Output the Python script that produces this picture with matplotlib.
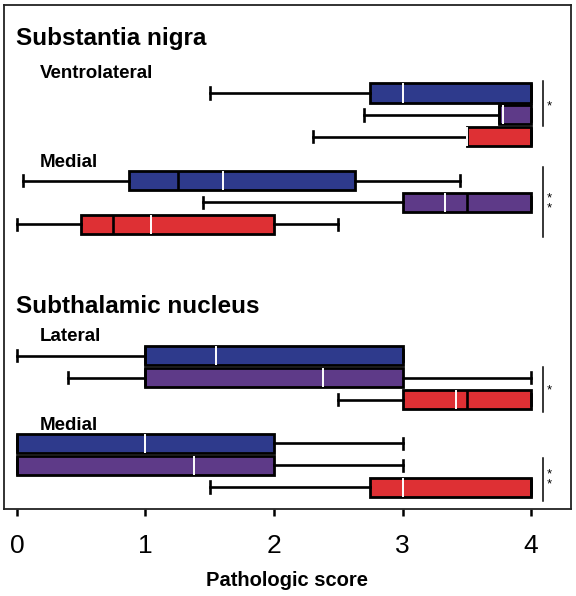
import matplotlib.pyplot as plt

plt.rcParams["font.family"] = ["Liberation Sans", "DejaVu Sans"]

# -------------------------
# data (pathologic score, 0-4)
# rows: SN ventrolateral, SN medial, STN lateral, STN medial; 3 groups each
# -------------------------
groups = ["group 1", "group 2", "group 3"]
regions = ["SN ventrolateral", "SN medial", "STN lateral", "STN medial"]

whis_lo = [1.50, 2.70, 2.30, 0.05, 1.45, 0.00, 0.00, 0.40, 2.50, 0.00, 0.00, 1.50]
q1 = [2.75, 3.75, 3.50, 0.87, 3.00, 0.50, 1.00, 1.00, 3.00, 0.00, 0.00, 2.75]
median = [4.00, 3.75, 4.00, 1.25, 3.50, 0.75, 1.00, 1.00, 3.50, 0.00, 0.00, 4.00]
q3 = [4.00, 4.00, 4.00, 2.63, 4.00, 2.00, 3.00, 3.00, 4.00, 2.00, 2.00, 4.00]
whis_hi = [4.00, 4.00, 4.00, 3.45, 4.00, 2.50, 3.00, 4.00, 4.00, 3.00, 3.00, 4.00]
mean = [3.00, 3.78, 3.50, 1.60, 3.33, 1.04, 1.55, 2.38, 3.42, 1.00, 1.38, 3.00]

colors = ["#2E3A8C", "#5E3A88", "#DE3034"]

# layout: row slots (one slot = one box)
row_pos = [0, 1, 2, 4, 5, 6, 12, 13, 14, 16, 17, 18]
headers = [("Substantia nigra", -2.19), ("Subthalamic nucleus", 10.05)]
subheaders = [("Ventrolateral", -0.68), ("Medial", 3.36), ("Lateral", 11.32), ("Medial", 15.38)]
# significance brackets: (top, bottom, star centre, stars)
sig = [(-0.55, 1.5, 0.6, "*"), (3.38, 6.58, 5.05, "*\n*"),
       (12.5, 14.57, 13.6, "*"), (16.67, 18.63, 17.65, "*\n*")]

fig = plt.figure(figsize=(5.76, 5.96), dpi=100)
ax = fig.add_axes([4 / 576, 87 / 596, 567 / 576, 504 / 596])

stats = []
for i in range(len(row_pos)):
    stats.append(dict(whislo=whis_lo[i], q1=q1[i], med=median[i], q3=q3[i],
                      whishi=whis_hi[i], mean=mean[i], fliers=[]))

bp = ax.bxp(stats, positions=row_pos, vert=False, widths=0.87, capwidths=0.52,
            patch_artist=True, showmeans=True, meanline=True, showfliers=False,
            boxprops=dict(edgecolor="black", linewidth=2.0),
            whiskerprops=dict(color="black", linewidth=1.9),
            capprops=dict(color="black", linewidth=1.9),
            medianprops=dict(color="black", linewidth=1.9),
            meanprops=dict(color="white", linestyle="-", linewidth=1.4))
for i, box in enumerate(bp["boxes"]):
    box.set_facecolor(colors[i % 3])
    box.set_zorder(2)
for m in bp["medians"]:
    m.set_zorder(3)
for m in bp["means"]:
    m.set_zorder(4)

for text, y in headers:
    ax.text(-0.01, y, text, fontsize=17.5, fontweight="bold", va="baseline", ha="left")
for text, y in subheaders:
    ax.text(0.18, y, text, fontsize=13.5, fontweight="bold", va="baseline", ha="left")

for top, bottom, yc, stars in sig:
    ax.plot([4.093, 4.093], [top, bottom], color="black", linewidth=1.1)
    ax.text(4.14, yc, stars, fontsize=9.5, ha="center", va="center", linespacing=0.75)

ax.set_xlim(-0.101, 4.311)
ax.set_ylim(19.0, -4.02)
ax.set_yticks([])
ax.set_xticks([0, 1, 2, 3, 4])
ax.tick_params(axis="x", direction="out", length=5, width=1.8, labelsize=19, pad=13)
for sp in ax.spines.values():
    sp.set_linewidth(1.3)
    sp.set_color("#222222")
ax.set_xlabel("Pathologic score", fontsize=14.5, fontweight="bold", labelpad=9)

fig.savefig("out.png", dpi=100)
